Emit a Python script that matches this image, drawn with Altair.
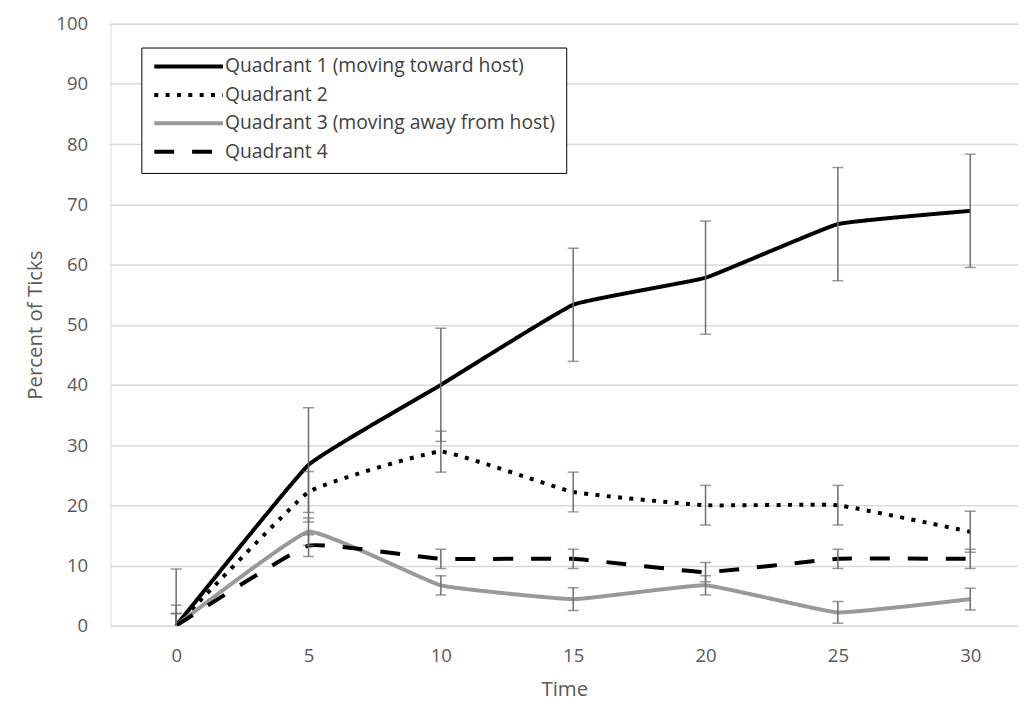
import altair as alt
import pandas as pd

# ---- data ----
times = [0, 5, 10, 15, 20, 25, 30]
series_names = [
    "Quadrant 1 (moving toward host)",
    "Quadrant 2",
    "Quadrant 3 (moving away from host)",
    "Quadrant 4",
]
q1 = [0, 26.7, 40.0, 53.3, 57.8, 66.7, 68.9]
q2 = [0, 22.2, 28.9, 22.2, 20.0, 20.0, 15.6]
q3 = [0, 15.6, 6.7, 4.4, 6.7, 2.2, 4.4]
q4 = [0, 13.3, 11.1, 11.1, 8.9, 11.1, 11.1]
e1 = [9.4, 9.5, 9.4, 9.4, 9.4, 9.4, 9.4]
e2 = [3.4, 3.4, 3.4, 3.3, 3.3, 3.3, 3.4]
e3 = [2.0, 2.3, 1.6, 1.9, 1.6, 1.8, 1.8]
e4 = [2.0, 1.8, 1.6, 1.6, 1.6, 1.6, 1.6]

y_ticks = list(range(0, 101, 10))

rows = []
for name, vals, errs in zip(series_names, [q1, q2, q3, q4], [e1, e2, e3, e4]):
    for t, v, e in zip(times, vals, errs):
        rows.append({"time": t, "series": name, "value": v,
                     "lo": v - e, "hi": v + e})
df = pd.DataFrame(rows)

FONT = "Open Sans"
GRAY_TXT = "#595959"

x_enc = alt.X("time:Q",
              scale=alt.Scale(domain=[-2.481, 31.805], nice=False, zero=False),
              axis=alt.Axis(values=times, format="d", grid=False, ticks=False, tickSize=0,
                            domain=False, labelPadding=21.5, labelFontSize=18.6,
                            labelColor=GRAY_TXT, labelFont=FONT, title="Time",
                            titleFontSize=20.5, titleColor=GRAY_TXT, titleFont=FONT,
                            titleFontWeight="normal", titlePadding=14))
y_scale = alt.Scale(domain=[0, 100], nice=False)

base = alt.Chart(df)

lines = base.mark_line(strokeWidth=4, interpolate="cardinal", tension=0.7,
                       clip=True).encode(
    x=x_enc,
    y=alt.Y("value:Q", scale=y_scale,
            axis=alt.Axis(values=y_ticks, grid=True, gridColor="#d9d9d9", gridWidth=1.5,
                          ticks=False, tickSize=0, domain=False, labelPadding=23,
                          labelFontSize=18.6, labelColor=GRAY_TXT, labelFont=FONT,
                          title="Percent of Ticks", titleFontSize=20.5,
                          titleColor=GRAY_TXT, titleFont=FONT,
                          titleFontWeight="normal", titlePadding=10)),
    color=alt.Color("series:N",
                    scale=alt.Scale(domain=series_names,
                                    range=["#000000", "#000000", "#999999", "#000000"]),
                    legend=alt.Legend(orient="none", legendX=31, legendY=24, title=None,
                                      symbolType="stroke", symbolSize=4761,
                                      symbolStrokeWidth=4, clipHeight=16,
                                      rowPadding=8.6, padding=11, labelOffset=0,
                                      labelFont=FONT, labelFontSize=19.4,
                                      labelColor="#404040", labelLimit=600,
                                      strokeColor="#000000", fillColor="#ffffff")),
    strokeDash=alt.StrokeDash("series:N",
                              scale=alt.Scale(domain=series_names,
                                              range=[[1, 0], [4, 7.4], [1, 0], [20, 18]]),
                              legend=alt.Legend(orient="none", legendX=31, legendY=24,
                                                title=None)),
    detail="series:N",
)

rules = base.mark_rule(color="#6e6e6e", strokeWidth=1.5, clip=True).encode(
    x="time:Q",
    y=alt.Y("lo:Q", scale=y_scale),
    y2="hi:Q",
)
lo_ticks = base.mark_tick(color="#6e6e6e", orient="horizontal", size=11,
                          thickness=1.5, clip=True).encode(
    x="time:Q", y=alt.Y("lo:Q", scale=y_scale))
hi_ticks = base.mark_tick(color="#6e6e6e", orient="horizontal", size=11,
                          thickness=1.5, clip=True).encode(
    x="time:Q", y=alt.Y("hi:Q", scale=y_scale))

chart = alt.layer(lines, rules, lo_ticks, hi_ticks).properties(
    width=912, height=605,
    autosize=alt.AutoSizeParams(type="none"),
    padding={"left": 103, "top": 14, "right": 0, "bottom": 74},
    background="white",
).configure_view(stroke=None).configure(font=FONT)

chart.save("out.html", embed_options={"renderer": "svg", "actions": False})
